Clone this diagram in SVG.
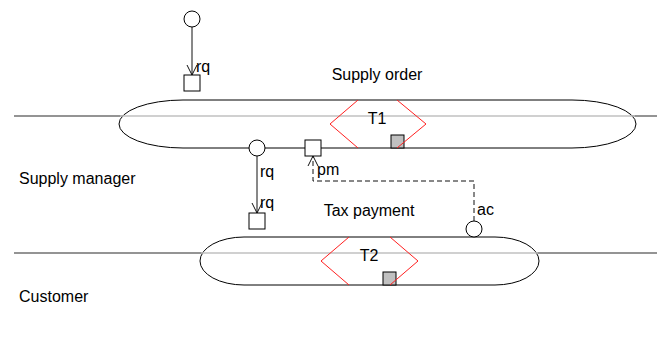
<svg xmlns="http://www.w3.org/2000/svg" width="657" height="345" viewBox="0 0 657 345">
<defs>
<style>
text{font-family:"Liberation Sans",Arial,sans-serif;font-size:16px;fill:#000}
.lane{stroke:#707070;stroke-width:1.3;fill:none}
.inner{stroke:#c0c0c0;stroke-width:1.3;fill:none}
.tx{fill:#fff;stroke:#000;stroke-width:1}
.dia{stroke:#ff2020;stroke-width:1;fill:none}
.res{fill:#c0c0c0;stroke:#000;stroke-width:1}
.box{fill:#fff;stroke:#000;stroke-width:1}
.conn{stroke:#111;stroke-width:1;fill:none}
.dash{stroke-dasharray:5,3}
</style>
<marker id="arr" viewBox="0 0 12 12" refX="11" refY="6" markerWidth="12" markerHeight="12" markerUnits="userSpaceOnUse" orient="auto">
<path d="M1,1 L11,6 L1,11" fill="none" stroke="#111" stroke-width="1"/>
</marker>
</defs>
<g id="lanes">
<line class="lane" x1="14" y1="116" x2="657" y2="116"/>
<line class="lane" x1="14" y1="253" x2="657" y2="253"/>
<text x="19" y="184">Supply manager</text>
<text x="19" y="302">Customer</text>
</g>
<g id="T1">
<rect class="tx" x="119" y="100" width="517" height="48" rx="64" ry="24"/>
<line class="inner" x1="120" y1="116" x2="635" y2="116"/>
<text x="377" y="80" text-anchor="middle">Supply order</text>
<text x="377" y="124" text-anchor="middle">T1</text>
<rect class="res" x="391" y="135" width="13" height="13"/>
<polyline class="dia" points="358,100 330,124 358,148"/>
<polyline class="dia" points="397,100 426,124 397,148"/>
</g>
<g id="T2">
<rect class="tx" x="200" y="237" width="339" height="48" rx="44" ry="24"/>
<line class="inner" x1="201" y1="253" x2="538" y2="253"/>
<text x="369" y="216" text-anchor="middle">Tax payment</text>
<text x="369" y="261" text-anchor="middle">T2</text>
<rect class="res" x="383" y="272" width="13" height="13"/>
<polyline class="dia" points="349,237 321,261 349,285"/>
<polyline class="dia" points="390,237 418,261 390,285"/>
</g>
<g id="connectors">
<line class="conn" x1="192" y1="27" x2="192" y2="75" marker-end="url(#arr)"/>
<line class="conn" x1="257" y1="156" x2="257" y2="213" marker-end="url(#arr)"/>
<polyline class="conn dash" points="474,221 474,181 313,181 313,156" marker-end="url(#arr)"/>
</g>
<g id="n_start">
<circle class="box" cx="192" cy="19" r="8"/>
</g>
<g id="n_rq1">
<rect class="box" x="184" y="75" width="16" height="16"/>
<text x="196" y="72">rq</text>
</g>
<g id="n_c1">
<circle class="box" cx="257" cy="148" r="8"/>
<text x="260" y="177">rq</text>
</g>
<g id="n_pm">
<rect class="box" x="305" y="140" width="16" height="16"/>
<text x="317" y="175">pm</text>
</g>
<g id="n_rq2">
<rect class="box" x="249" y="213" width="16" height="16"/>
<text x="260" y="208">rq</text>
</g>
<g id="n_ac">
<circle class="box" cx="474" cy="229" r="8"/>
<text x="477" y="215">ac</text>
</g>
</svg>
